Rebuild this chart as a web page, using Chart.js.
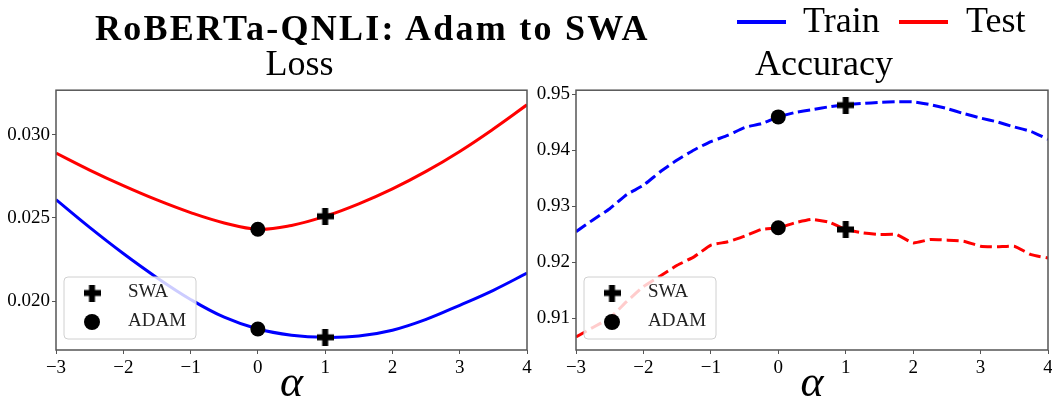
<!DOCTYPE html>
<html>
<head>
<meta charset="utf-8">
<script src="https://cdn.jsdelivr.net/npm/chart.js@4.4.1/dist/chart.umd.min.js"></script>
<style>
  body { margin: 0; background: #fff; }
  #wrap { position: relative; width: 1052px; height: 406px; overflow: hidden; font-family: 'Liberation Serif', serif; }
  canvas { position: absolute; top: 0; }
  #lossCanvas { left: 0; }
  #accCanvas { left: 521px; }
  .txt { position: absolute; white-space: nowrap; color: #000; }
  #mainTitle { left: 95px; top: 10px; font-size: 36px; line-height: 36px; font-weight: bold; letter-spacing: 2.25px; }
  .key { position: absolute; height: 4px; width: 49px; top: 20px; }
</style>
</head>
<body>
<div id="wrap">
  <canvas id="lossCanvas" width="536" height="406"></canvas>
  <canvas id="accCanvas" width="536" height="406"></canvas>
  <div class="txt" id="mainTitle">RoBERTa-QNLI: Adam to SWA</div>
  <div class="key" style="left:737px;background:#0000ff"></div>
  <div class="txt" style="left:803px;top:2px;font-size:36px;line-height:36px">Train</div>
  <div class="key" style="left:899px;background:#ff0000"></div>
  <div class="txt" style="left:966px;top:2px;font-size:36px;line-height:36px">Test</div>
</div>
<script>
// loss curves, read every 0.5 along alpha
const alphaLoss = [-3, -2.5, -2, -1.5, -1, -0.5, 0, 0.5, 1, 1.5, 2, 2.5, 3, 3.5, 4];
const lossTrain = [0.0261, 0.02443, 0.02286, 0.02141, 0.0201, 0.01903, 0.01832, 0.01795, 0.01782, 0.0179, 0.01825, 0.0189, 0.01975, 0.02065, 0.02168];
const lossTest = [0.0289, 0.02788, 0.02694, 0.02608, 0.02532, 0.0247, 0.02432, 0.02455, 0.0251, 0.02585, 0.02675, 0.0278, 0.029, 0.03035, 0.0318];

// accuracy curves, read every 0.25 along alpha
const alphaAcc = [-3, -2.75, -2.5, -2.25, -2, -1.75, -1.5, -1.25, -1, -0.75, -0.5, -0.25, 0, 0.25, 0.5, 0.75, 1, 1.25, 1.5, 1.75, 2, 2.25, 2.5, 2.75, 3, 3.25, 3.5, 3.75, 4];
const accTrain = [0.9255, 0.9276, 0.9296, 0.9321, 0.9338, 0.9362, 0.9383, 0.9401, 0.9416, 0.9427, 0.9441, 0.9448, 0.9460, 0.9468, 0.9473, 0.9478, 0.9482, 0.9484, 0.9486, 0.9487, 0.9487, 0.9482, 0.9475, 0.9466, 0.9458, 0.9451, 0.9442, 0.9434, 0.9420];
const accTest = [0.9067, 0.9084, 0.9101, 0.9130, 0.9157, 0.9176, 0.9195, 0.9210, 0.9231, 0.9237, 0.9247, 0.9259, 0.9262, 0.9271, 0.9277, 0.9272, 0.9259, 0.9253, 0.9250, 0.9250, 0.9235, 0.9241, 0.9240, 0.9238, 0.9229, 0.9228, 0.9229, 0.9214, 0.9208];

// the two end points: [train, test]
const swaAlpha = 1;
const adamAlpha = 0;
const lossSwa = [0.01782, 0.0251];
const lossAdam = [0.01832, 0.02432];
const accSwa = [0.9481, 0.9259];
const accAdam = [0.9460, 0.9262];

const lossTicks = [0.020, 0.025, 0.030];
const accTicks = [0.91, 0.92, 0.93, 0.94, 0.95];
const markerNames = ['SWA', 'ADAM'];

const serif = "'Liberation Serif', serif";

// thick plus like matplotlib 'P'
function plusMarker(size, arm) {
  const c = document.createElement('canvas');
  c.width = size; c.height = size;
  const g = c.getContext('2d');
  g.fillStyle = '#000';
  const o = (size - arm) / 2;
  g.fillRect(o, 0, arm, size);
  g.fillRect(0, o, size, arm);
  return c;
}
const plus = plusMarker(17, 6);

function pairs(xs, ys) {
  return xs.map(function(x, i) { return {x: x, y: ys[i]}; });
}

// axes box on all four sides
const frame = {
  id: 'frame',
  afterDatasetsDraw(chart) {
    const a = chart.chartArea, ctx = chart.ctx;
    ctx.save();
    ctx.strokeStyle = '#555';
    ctx.lineWidth = 1.5;
    ctx.strokeRect(a.left, a.top, a.right - a.left, a.bottom - a.top);
    ctx.restore();
  }
};

// nudge the subplot title a little to the right, like the original
const titleShift = {
  id: 'titleShift',
  afterLayout(chart, args, opts) {
    const t = chart.titleBlock;
    if (t) { t.left += opts.dx; t.right += opts.dx; }
  }
};

// lower left legend box with the two markers
const markerLegend = {
  id: 'markerLegend',
  afterDraw(chart) {
    const a = chart.chartArea, ctx = chart.ctx;
    const bx = a.left + 8, by = a.bottom - 73, bw = 132, bh = 62;
    ctx.save();
    ctx.beginPath();
    ctx.roundRect(bx, by, bw, bh, 4);
    ctx.fillStyle = 'rgba(255,255,255,0.8)';
    ctx.fill();
    ctx.strokeStyle = '#d0d0d0';
    ctx.lineWidth = 1;
    ctx.stroke();
    ctx.font = '19px ' + serif;
    ctx.textBaseline = 'middle';
    ctx.fillStyle = '#222';
    markerNames.forEach(function(name, i) {
      const cy = by + 16 + i * 29;
      if (i === 0) {
        ctx.drawImage(plus, bx + 28 - plus.width / 2, cy - plus.height / 2);
      } else {
        ctx.beginPath();
        ctx.arc(bx + 28, cy, 8, 0, Math.PI * 2);
        ctx.fillStyle = '#000';
        ctx.fill();
        ctx.fillStyle = '#222';
      }
      ctx.fillText(name, bx + 64, cy - 1);
    });
    ctx.restore();
  }
};

function makeChart(id, title, titleDx, curveX, train, test, swa, adam, yMin, yMax, yTicks, digits, dashed) {
  const lineStyle = dashed ? [12, 5] : [];
  const tension = dashed ? 0.15 : 0.4;
  return new Chart(document.getElementById(id), {
    type: 'scatter',
    data: {
      datasets: [
        { label: 'SWA', data: [{x: swaAlpha, y: swa[0]}, {x: swaAlpha, y: swa[1]}],
          pointStyle: plus, pointRadius: 8, backgroundColor: '#000', borderColor: '#000' },
        { label: 'ADAM', data: [{x: adamAlpha, y: adam[0]}, {x: adamAlpha, y: adam[1]}],
          pointStyle: 'circle', pointRadius: 7.5, borderWidth: 0, backgroundColor: '#000', borderColor: '#000' },
        { label: 'Train', data: pairs(curveX, train), showLine: true, borderColor: '#0000ff',
          borderWidth: 3, borderDash: lineStyle, pointRadius: 0, tension: tension },
        { label: 'Test', data: pairs(curveX, test), showLine: true, borderColor: '#ff0000',
          borderWidth: 3, borderDash: lineStyle, pointRadius: 0, tension: tension }
      ]
    },
    options: {
      responsive: false,
      animation: false,
      devicePixelRatio: 1,
      layout: { padding: 0 },
      plugins: {
        legend: { display: false },
        tooltip: { enabled: false },
        titleShift: { dx: titleDx },
        title: {
          display: true,
          text: title,
          fullSize: false,
          color: '#000',
          font: { family: serif, size: 36, weight: 'normal', lineHeight: 1.2 },
          padding: { top: 44, bottom: 3 }
        }
      },
      scales: {
        x: {
          type: 'linear',
          min: -3,
          max: 4,
          afterFit: function(scale) { scale.height = 56; },
          ticks: {
            stepSize: 1,
            color: '#000',
            padding: 3,
            font: { family: serif, size: 19 },
            callback: function(v) { return v < 0 ? '\u2212' + Math.abs(v) : String(v); }
          },
          grid: { drawOnChartArea: false, drawTicks: true, tickLength: 4, color: '#555' },
          border: { display: false },
          title: {
            display: true,
            text: '\u03b1',
            color: '#000',
            font: { family: serif, size: 44, style: 'italic', lineHeight: 1 },
            padding: { top: 0, bottom: 0 }
          }
        },
        y: {
          type: 'linear',
          min: yMin,
          max: yMax,
          afterFit: function(scale) { scale.width = 55 + (id === 'lossCanvas' ? 1 : 0); },
          afterBuildTicks: function(scale) {
            scale.ticks = yTicks.map(function(v) { return {value: v}; });
          },
          ticks: {
            color: '#000',
            padding: 2,
            font: { family: serif, size: 19 },
            callback: function(v) { return Number(v).toFixed(digits); }
          },
          grid: { drawOnChartArea: false, drawTicks: true, tickLength: 4, color: '#555' },
          border: { display: false }
        }
      }
    },
    plugins: [frame, titleShift, markerLegend]
  });
}

makeChart('lossCanvas', 'Loss', 8, alphaLoss, lossTrain, lossTest, lossSwa, lossAdam,
  0.01706, 0.03268, lossTicks, 3, false);
makeChart('accCanvas', 'Accuracy', 12, alphaAcc, accTrain, accTest, accSwa, accAdam,
  0.90437, 0.95077, accTicks, 2, true);
</script>
</body>
</html>
